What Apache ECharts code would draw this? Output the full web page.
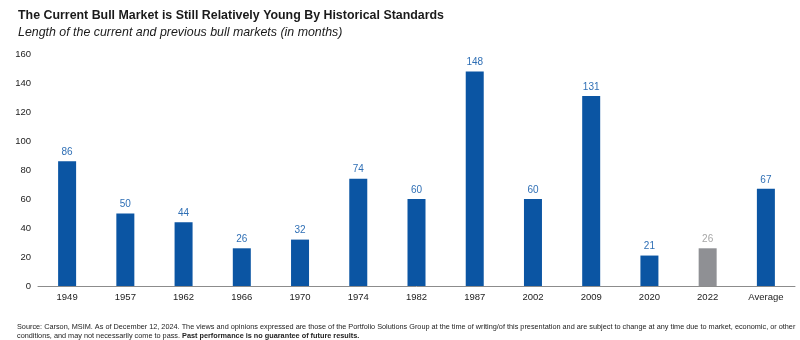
<!DOCTYPE html>
<html><head><meta charset="utf-8">
<script src="https://cdn.jsdelivr.net/npm/echarts@6/dist/echarts.min.js"></script>
<style>html,body{margin:0;padding:0;background:#fff;}#c{width:800px;height:340px;}</style>
</head><body><div id="c"></div>
<script>
var categories = ['1949','1957','1962','1966','1970','1974','1982','1987','2002','2009','2020','2022','Average'];
var months = [86,50,44,26,32,74,60,148,60,131,21,26,67];
var highlight = ['2022'];
var yTicks = [0,20,40,60,80,100,120,140,160];
</script>
<script>
var chart = echarts.init(document.getElementById('c'), null, {renderer:'canvas'});
var blue = '#0b55a3', gray = '#8f9094';
var data = months.map(function(v,i){
  var hi = highlight.indexOf(categories[i]) >= 0;
  return {value:v, itemStyle:{color: hi?gray:blue}, label:{color: hi?'#a6a6a6':'#2f6fb5'}};
});
chart.setOption({
  animation:false,
  textStyle:{fontFamily:'Liberation Sans, Arial, sans-serif'},
  title:[
    {text:'The Current Bull Market is Still Relatively Young By Historical Standards', left:13, top:5,
     textStyle:{fontSize:12.4, fontWeight:'bold', color:'#1a1a1a', fontFamily:'Liberation Sans'}},
    {text:'Length of the current and previous bull markets (in months)', left:13, top:22,
     textStyle:{fontSize:12.4, fontStyle:'italic', fontWeight:'normal', color:'#1a1a1a', fontFamily:'Liberation Sans'}},
    {text:'Source: Carson, MSIM. As of December 12, 2024. The views and opinions expressed are those of the Portfolio Solutions Group at the time of writing/of this presentation and are subject to change at any time due to market, economic, or other\nconditions, and may not necessarily come to pass. {b|Past performance is no guarantee of future results.}',
     left:12, top:318,
     textStyle:{fontSize:7.3, fontWeight:'normal', color:'#222', lineHeight:8.5, fontFamily:'Liberation Sans Narrow, Liberation Sans',
       rich:{b:{fontSize:7.3, fontWeight:'bold', color:'#222', lineHeight:8.5, fontFamily:'Liberation Sans Narrow, Liberation Sans'}}}}
  ],
  grid:{left:38, right:5, top:54, bottom:54, containLabel:false},
  xAxis:{type:'category', data:categories,
    axisLine:{lineStyle:{color:'#8c8c8c', width:1}},
    axisTick:{show:false},
    axisLabel:{color:'#222', fontSize:9.5, margin:6}},
  yAxis:{type:'value', min:0, max:160, interval:20,
    splitLine:{show:false}, axisLine:{show:false}, axisTick:{show:false},
    axisLabel:{color:'#222', fontSize:9.5, margin:7, align:'right'}},
  series:[{type:'bar', data:data, barWidth:18,
    label:{show:true, position:'top', fontSize:10, distance:4}}]
});
</script>
</body></html>
